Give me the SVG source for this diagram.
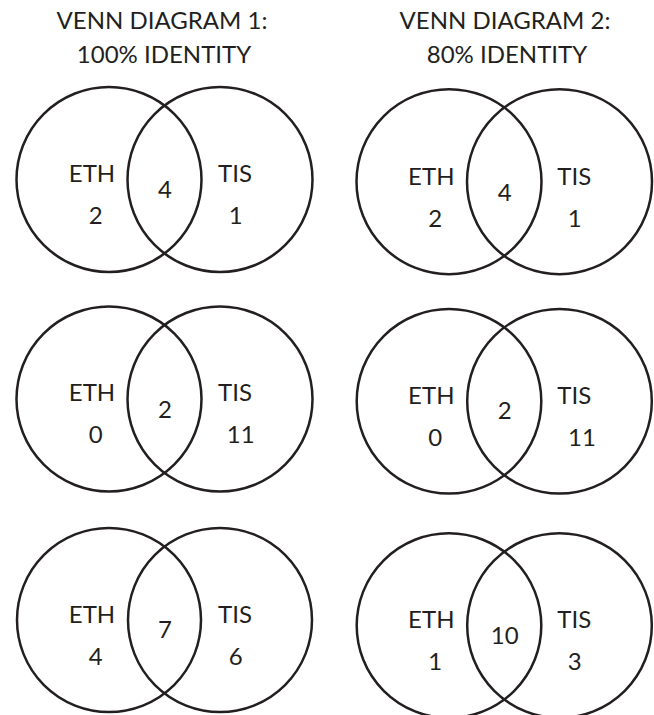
<svg xmlns="http://www.w3.org/2000/svg" width="654" height="715" viewBox="0 0 654 715">
<style>
.c{fill:none;stroke:#231f20;stroke-width:2.5}
text{font-family:Lato,"Open Sans",sans-serif;font-size:24px;fill:#231f20;text-anchor:middle}
</style>
<rect width="654" height="715" fill="#fff"/>
<g id="title1"><text x="162" y="28.5">VENN DIAGRAM 1:</text><text x="164" y="62.7">100% IDENTITY</text></g>
<g id="title2"><text x="505" y="28.5">VENN DIAGRAM 2:</text><text x="507" y="62.7">80% IDENTITY</text></g>
<g id="v1a">
<circle class="c" cx="109" cy="179.5" r="92.5"/><circle class="c" cx="220" cy="179.5" r="92.5"/>
<text x="92" y="181.7">ETH</text><text x="95.7" y="224">2</text><text x="165" y="198.3">4</text><text x="235" y="181.7">TIS</text><text x="235.7" y="224">1</text>
</g>
<g id="v1b">
<circle class="c" cx="109" cy="399" r="92.5"/><circle class="c" cx="220" cy="399" r="92.5"/>
<text x="92" y="401">ETH</text><text x="95.7" y="443.3">0</text><text x="165" y="417.7">2</text><text x="235" y="401">TIS</text><text x="240.7" y="443.3">11</text>
</g>
<g id="v1c">
<circle class="c" cx="109" cy="620" r="92"/><circle class="c" cx="220" cy="620" r="92"/>
<text x="92" y="623.3">ETH</text><text x="95.7" y="665">4</text><text x="165" y="638.3">7</text><text x="235" y="623.3">TIS</text><text x="235.7" y="665">6</text>
</g>
<g id="v2a">
<circle class="c" cx="449" cy="181.7" r="92.5"/><circle class="c" cx="559.5" cy="181.7" r="92.5"/>
<text x="431.3" y="185">ETH</text><text x="435.3" y="226.7">2</text><text x="504.7" y="200.7">4</text><text x="574.3" y="185">TIS</text><text x="574.7" y="226.7">1</text>
</g>
<g id="v2b">
<circle class="c" cx="449" cy="401.3" r="92.3"/><circle class="c" cx="559.5" cy="401.3" r="92.3"/>
<text x="431.3" y="404">ETH</text><text x="435.3" y="445.7">0</text><text x="504.7" y="419.3">2</text><text x="574.3" y="404">TIS</text><text x="582" y="445.7">11</text>
</g>
<g id="v2c">
<circle class="c" cx="449" cy="625.6" r="92.3"/><circle class="c" cx="559.5" cy="625.6" r="92.3"/>
<text x="431.3" y="628.3">ETH</text><text x="435.3" y="670">1</text><text x="504.7" y="644">10</text><text x="574.3" y="628.3">TIS</text><text x="574.7" y="670">3</text>
</g>
</svg>
